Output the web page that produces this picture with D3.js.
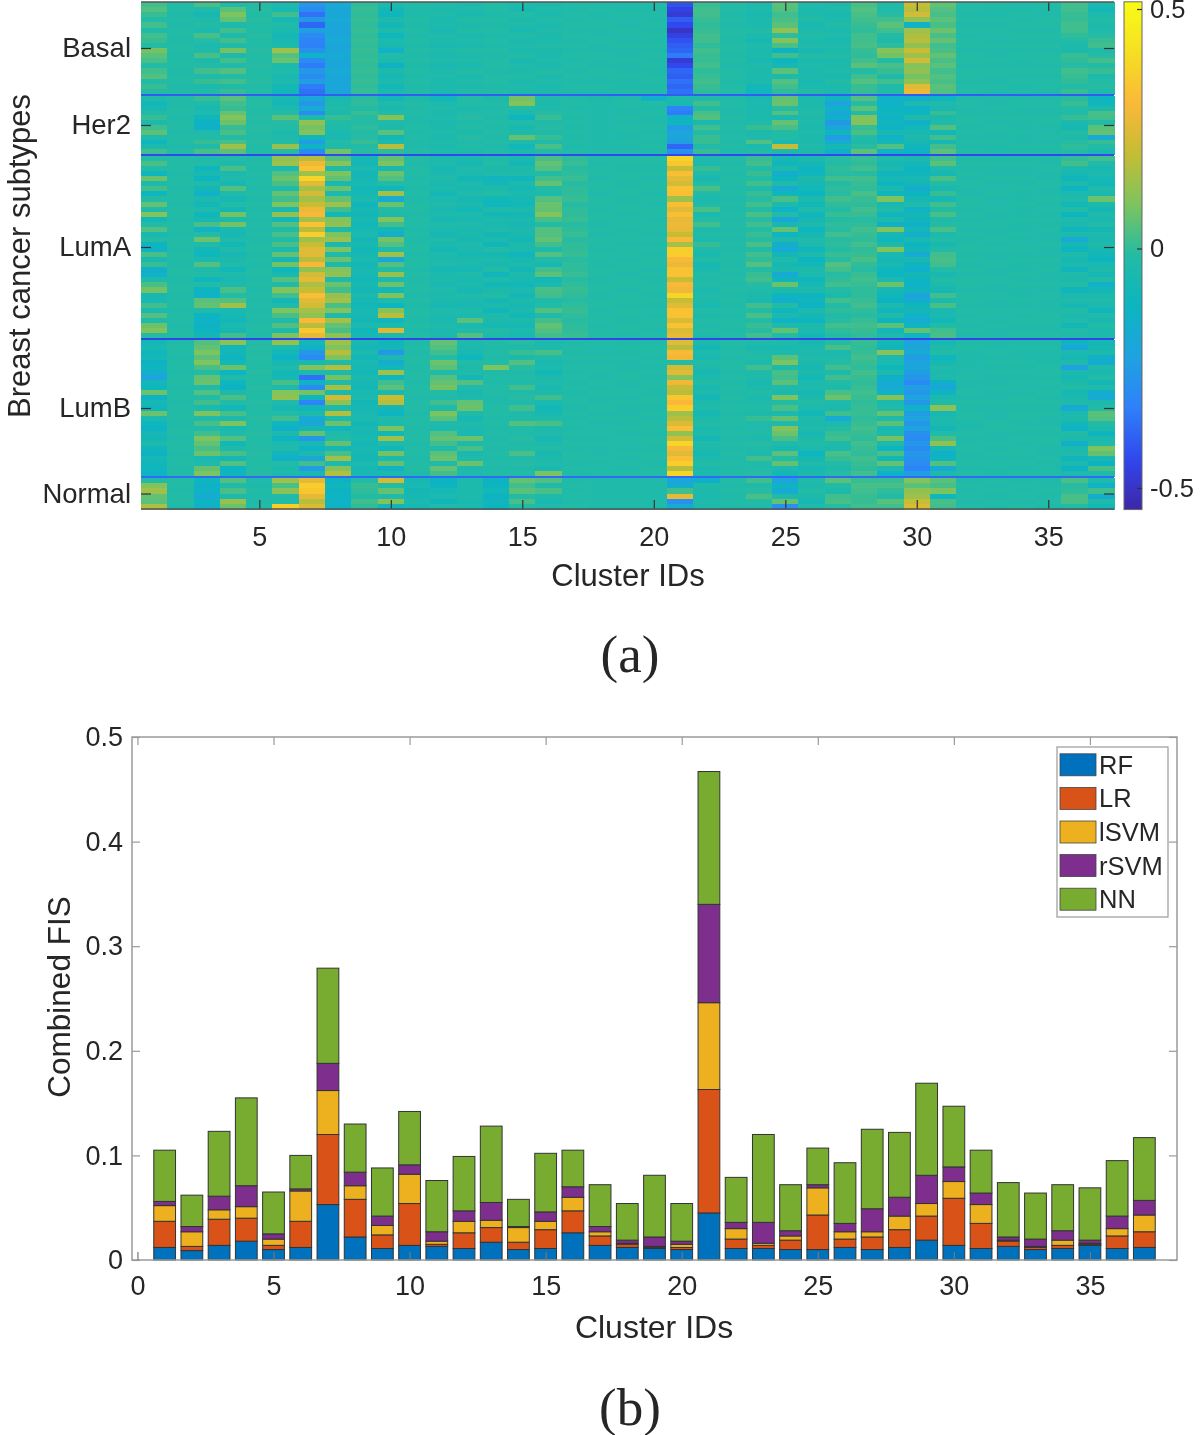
<!DOCTYPE html>
<html><head><meta charset="utf-8">
<script src="https://cdn.jsdelivr.net/npm/d3@7"></script>
<style>html,body{margin:0;background:#fff}svg{display:block;filter:blur(.5px)}text{font-family:"Liberation Sans",Arial,sans-serif;fill:#262626}</style>
</head><body><svg id="c" width="1200" height="1435"></svg>
<script>
// ---------- (a) heatmap values, hundredths, one array per row, 37 clusters ----------
const clusters = d3.range(1, 38);
const subtypes = ["Basal", "Her2", "LumA", "LumB", "Normal"];
const subtypeSamples = [184, 116, 364, 272, 62];
const separatorValues = [-40, -44, -45, -37];
const basalRows = [
[2,-2,3,-3,-2,-5,-26,-18,0,-5,-2,-3,-4,-2,-3,-4,-2,-3,-3,-2,-42,1,-2,-5,5,-3,-4,3,-2,20,6,-2,-2,-3,-2,2,-5],
[4,-2,-3,5,-1,-6,-30,-20,1,-8,-3,-4,-3,-2,-6,-3,-3,-2,-3,-3,-46,2,-2,-3,4,-5,-3,4,-3,18,4,-2,-3,-3,-3,2,-8],
[1,-3,-7,9,-2,2,-36,-20,0,-10,-3,-3,-6,-3,-2,-5,-2,-3,-2,-2,-48,2,-3,-6,2,-4,-6,3,-1,22,3,-3,-3,-2,-3,1,-5],
[-2,-2,-3,6,-1,-7,-26,-19,1,-4,-2,-5,-2,-2,-4,-2,-3,-3,-3,-3,-40,1,-2,-4,3,-2,-4,2,2,12,5,-2,-2,-3,-2,1,-2],
[2,-3,-2,-4,-2,-3,-38,-20,0,-8,-3,-4,-4,-3,-3,-5,-2,-2,-3,-2,-44,0,-3,-5,5,-6,-2,1,5,-14,3,-3,-3,-2,-2,2,-4],
[-3,-2,-5,2,-2,-5,-24,-21,1,-3,-2,-6,-2,-2,-6,-3,-3,-3,-2,-3,-50,1,-2,-2,12,-4,-5,0,2,14,7,-2,-2,-3,-3,2,-3],
[2,-2,3,-4,-1,-8,-30,-20,0,-11,-3,-3,-5,-3,-2,-4,-2,-3,-3,-2,-46,2,-2,-4,0,-2,-3,2,-2,16,3,-3,-3,-2,-2,0,-1],
[1,-3,-1,2,-2,-6,-32,-19,1,-5,-2,-4,-3,-2,-5,-5,-3,-2,-3,-3,-42,2,-3,-7,10,-5,-6,2,-3,18,6,-2,-3,-3,-3,-2,1],
[-2,-2,-5,-3,-2,-4,-33,-21,0,-6,-3,-6,-5,-3,-3,-2,-2,-3,-2,-2,-40,0,-2,-3,3,-3,-3,3,0,12,2,-2,-2,-2,-2,-4,2],
[8,-2,-3,8,-1,14,-28,-20,1,-14,-2,-3,-2,-2,-5,-4,-3,-3,-3,-3,-38,2,-2,-5,-13,-6,-4,1,10,20,3,-3,-3,-3,-3,-4,-3],
[5,-3,3,-4,-2,4,-14,-19,0,-2,-3,-5,-4,-3,-2,-5,-2,-2,-3,-2,-34,1,-3,-4,2,-2,-2,0,8,14,6,-2,-3,-2,-2,1,-1],
[3,-2,-4,2,-2,7,-30,-20,1,-5,-2,-3,-3,-2,-6,-3,-3,-3,-2,-3,-48,1,-2,-6,-12,-5,-5,2,-2,22,3,-2,-2,-3,-2,0,2],
[-2,-2,-2,-3,-1,-5,-34,-21,0,-13,-3,-6,-5,-2,-3,-5,-2,-3,-3,-2,-44,2,-3,-3,-7,-3,-4,5,3,10,5,-3,-3,-3,-3,-1,-2],
[2,-3,2,4,-2,-3,-26,-19,1,-4,-2,-4,-2,-3,-4,-2,-3,-2,-3,-3,-38,0,-2,-4,5,-5,-3,-2,1,12,2,-2,-2,-2,-2,2,1],
[4,-2,-3,-2,-2,-6,-30,-20,0,-7,-3,-3,-5,-2,-2,-4,-2,-3,-2,-2,-40,1,-2,-5,-4,-4,-6,2,-3,8,4,-2,-3,-3,-3,1,-4],
[-2,-2,1,2,-1,-4,-24,-20,1,-4,-2,-5,-3,-2,-5,-3,-3,-3,-3,-2,-36,2,-3,-4,4,-6,-2,4,2,12,3,-3,-3,-2,-2,0,-2],
[1,-3,-5,-3,-2,-8,-34,-21,0,-9,-3,-4,-4,-3,-3,-5,-2,-2,-3,-3,-38,1,-2,-8,2,-5,-4,1,-3,25,5,-2,-2,-3,-2,-2,-1],
[-2,-2,-2,1,-2,-9,-36,-20,1,-5,-2,-5,-2,-2,-4,-4,-3,-3,-2,-2,-36,0,-2,-11,0,-2,-5,1,-2,28,4,-2,-3,-3,-3,1,-3]];
const her2Rows = [
[-3,-2,1,5,-2,-6,-20,-6,-1,-8,-4,-9,-2,-4,8,-3,-3,-4,-3,-14,-5,-3,-3,-6,6,-5,-10,4,-14,-16,-11,-3,-3,-3,-3,-1,-12],
[-9,-3,-3,2,-1,-8,-26,-4,0,-3,-2,-5,-2,-2,10,-4,-2,-3,-2,-2,-6,2,-2,-5,7,-4,-22,-1,-14,-5,-3,-2,-3,-2,-2,1,-10],
[-6,-2,-6,1,-2,-5,-18,-3,-2,-6,-3,-3,-4,-3,-2,-3,-3,-3,-3,-3,-32,-2,-3,-5,-1,-3,-14,5,-12,-14,-6,-3,-2,-3,-3,-2,-4],
[-3,-2,-3,6,-2,-2,-30,-5,1,-2,-2,-5,-3,-2,-5,-1,-2,-3,-3,-2,-34,3,-3,-4,4,-2,-20,-2,-10,-12,1,-3,-3,-3,-3,-3,3],
[1,-3,-10,10,-1,5,-4,1,-1,10,-3,-3,-1,-3,-12,1,-3,-3,-2,-3,-14,4,-2,-5,-6,-4,-15,10,-14,-3,-4,-2,-2,-2,-2,1,2],
[-5,-2,-13,7,-2,-1,12,-2,-2,-3,-3,-5,-3,-2,-2,-3,-2,-3,-3,-3,-10,-6,-3,-3,6,-3,-26,10,-10,-15,-3,-2,-3,-3,-2,-5,-2],
[2,-2,-15,1,-1,-2,8,-3,0,-4,-2,-4,-2,-3,-6,-1,-3,-3,-2,-2,-24,2,-2,1,3,-5,-20,1,-14,-9,4,-3,-2,-3,-3,-7,5],
[5,-3,-3,3,-2,-5,10,-5,-2,5,-3,-3,-4,-2,-4,-3,-2,-3,-3,-3,-22,-2,-3,-4,-2,-3,-11,3,-6,-6,-9,-2,-3,-2,-3,-2,6],
[-3,-2,-2,-2,-2,-3,-10,-6,-1,-8,-2,-5,-1,-3,6,1,-3,-3,-3,-2,-20,1,-2,-3,-2,-5,-24,-2,-14,-4,2,-3,-3,-3,-2,-4,-18],
[-11,-2,1,3,-1,-2,-24,-2,1,-5,-3,-3,-3,-2,-3,-3,-2,-3,-2,-3,-24,1,-3,4,-6,-4,-17,-4,-8,-7,-7,-2,-2,-3,-3,-1,1],
[-5,-3,-3,14,-2,13,-12,-3,-2,18,-3,-5,-2,-3,-9,3,-3,-3,-3,-2,-38,-3,-2,-5,20,-3,-7,-1,4,-10,2,-3,-3,-2,-2,0,-2],
[2,-2,3,5,-2,-1,-30,8,-1,0,-2,-3,-4,-2,-5,-2,-2,-3,-3,-3,-28,1,-3,-2,-5,-4,-15,5,-14,-13,5,-2,-3,-3,-3,-2,-6]];
const lumARows = [
[-2,-2,-3,-2,-3,12,18,4,-7,6,-2,-5,-5,-3,-5,3,0,-2,-2,-2,38,-3,-2,1,-7,-5,-1,1,-3,-5,2,-3,-3,-3,-3,0,2],
[3,-2,-2,-4,-2,14,28,11,-8,9,-3,-4,-7,-2,-8,6,1,-3,-2,-2,34,-5,-3,2,-10,-7,-2,0,-7,-8,5,-2,-2,-2,-3,2,-3],
[-2,-2,-11,3,-3,-5,33,-3,-5,-6,-2,-7,-3,-4,-4,4,-1,-2,-3,-3,20,1,-2,-2,-4,-12,0,2,-5,-12,-3,-3,-3,-3,-2,-4,-6],
[-11,-3,-6,-5,-2,4,14,9,-8,7,-2,-5,-5,-3,-3,-2,0,-2,-2,-2,32,-3,-3,1,-16,-10,-1,-1,-10,-10,-7,-2,-3,-3,-3,-7,-5],
[7,-2,-12,-3,-3,7,38,6,-7,4,-3,-3,-8,-10,-10,2,1,-3,-2,-3,26,-6,-2,-2,-12,-4,2,2,-7,-7,3,-3,-2,-2,-3,-10,-7],
[-4,-2,-3,-7,-2,3,25,-6,-6,-2,-2,-6,-4,-8,-5,6,-1,-2,-3,-2,22,-2,-2,2,-3,-7,-2,1,-12,-8,-2,-2,-3,-3,-2,-4,-9],
[2,-3,-8,4,-3,-3,15,7,-9,-11,-3,-4,-6,-4,-7,-2,0,-2,-2,-2,33,3,-3,-3,-17,-9,0,0,-5,-16,-6,-3,-3,-2,-3,-12,-3],
[-11,-2,-14,-3,-2,6,22,-5,-7,15,-2,-8,-3,-2,-5,-4,0,-3,-2,-3,32,-2,-2,1,-10,-12,-1,3,-10,-12,1,-3,-2,-3,-3,-5,-6],
[-2,-2,-5,-7,-3,2,15,6,-5,-18,-3,-5,-7,-9,-7,4,1,-2,-3,-2,14,-5,-3,-1,3,-5,2,1,9,-7,-7,-2,-3,-3,-2,-3,7],
[6,-3,-9,-2,-2,9,20,14,-10,7,-2,-3,-4,-11,-9,7,-1,-2,-2,-3,32,-3,-2,2,-5,-9,0,0,-6,-3,2,-2,-3,-2,-3,-9,-4],
[-3,-2,-3,-8,-3,-6,28,2,-7,-2,-2,-6,-9,-3,-4,6,0,-3,-2,-2,25,3,-3,-2,-14,-3,-2,2,-3,-14,-2,-3,-2,-3,-2,-2,-8],
[10,-2,-11,8,-2,12,30,-9,-8,-4,-3,-4,-4,-8,-8,10,0,-2,-3,-2,32,-5,-2,3,-2,-10,1,1,-10,-8,3,-2,-3,-3,-3,-12,-3],
[-9,-3,-6,-4,-3,-8,15,10,-6,10,-2,-7,-6,-4,-5,3,1,-2,-2,-3,26,-2,-3,-1,-20,-7,-2,-1,-4,-10,-3,-3,-3,-2,-2,-3,-6],
[-2,-2,3,8,-2,4,33,12,-9,2,-2,-3,-3,-6,-7,-2,-1,-3,-2,-2,28,2,-2,2,-7,-4,0,0,-15,-15,-2,-2,-2,-3,-3,-5,-2],
[4,-2,-14,-6,-3,-3,18,-4,-7,-8,-3,-5,-6,-3,-4,4,0,-2,-3,-2,26,-4,-3,-2,6,-12,-1,2,10,-8,3,-3,-3,-3,-2,-10,-8],
[-6,-3,-2,-7,-2,3,36,9,-5,-16,-2,-7,-4,-8,-6,4,1,-3,-2,-3,20,-2,-2,1,-12,-7,2,1,-7,-16,-5,-2,-3,-2,-3,-4,-4],
[-2,-2,7,-3,-3,-2,14,14,-8,8,-3,-3,-7,-4,-8,6,-1,-2,-2,-2,30,-5,-3,-1,-4,-3,-1,0,-10,-6,-2,-3,-2,-3,-3,-18,-6],
[-12,-2,-3,-9,-2,3,20,-6,-6,4,-2,-5,-3,-10,-4,2,0,-2,-3,-3,15,1,-2,3,-16,-5,0,2,-4,-12,-6,-2,-3,-3,-2,-7,-3],
[-14,-3,-8,-3,-2,-5,25,9,-9,-3,-2,-8,-5,-2,-5,-4,0,-3,-2,-2,36,-3,-3,-2,-18,-10,-2,0,10,-8,-2,-2,-2,-2,-3,-12,-7],
[3,-2,-11,-7,-3,6,25,-3,-7,14,-3,-4,-7,-7,-10,4,1,-2,-2,-3,36,-6,-2,2,-8,-4,1,1,-6,-18,2,-3,-3,-3,-3,-3,-8],
[-6,-2,-5,-4,-2,-8,18,7,-5,-20,-2,-5,-4,-4,-6,-3,-1,-2,-3,-2,30,-2,-2,0,-3,-12,-1,3,-8,-6,3,-2,-3,-2,-2,-7,-12],
[1,-3,4,-3,-3,8,30,-5,-8,4,-2,-3,-5,-6,-4,-7,0,-3,-2,-2,27,-7,-3,4,-7,-9,4,0,-6,-12,2,-3,-2,-3,-3,-5,-6],
[-15,-2,-4,-9,-2,-11,12,10,-6,-2,-3,-7,-7,-2,-8,2,0,-2,-2,-3,33,-5,-2,-2,-5,-4,2,-1,-11,-15,-2,-2,-3,-3,-2,-10,-4],
[-14,-2,-2,-3,-2,-6,22,12,-7,13,-2,-5,-3,-10,-4,5,1,-2,-3,-2,33,-2,-3,1,-18,-5,-1,1,-12,-8,-6,-3,-3,-2,-3,-3,-7],
[-3,-3,-11,-6,-3,4,26,-3,-9,-5,-3,-4,-6,-3,-6,-9,-1,-3,-2,-3,20,-3,-2,2,-10,-10,0,2,-5,-12,-2,-2,-2,-3,-3,-4,-2],
[3,-2,-2,-4,-2,-3,16,7,-6,7,-2,-6,-4,-9,-9,-5,0,-2,-2,-2,30,-2,-3,-1,7,-7,2,1,7,-14,-4,-2,-3,-2,-2,-2,-14],
[8,-2,-12,3,-3,10,20,2,-8,-9,-2,-3,-7,-4,-5,3,1,-2,-3,-2,28,-5,-2,-3,-4,-4,-2,0,-7,-10,-7,-3,-3,-3,-3,-10,-8],
[-7,-3,-14,-2,-2,2,32,13,-5,9,-3,-5,-3,-2,-8,2,0,-3,-2,-3,38,-3,-3,-4,-12,-12,-4,0,-10,-22,2,-2,-2,-3,-2,-5,-5],
[-6,-2,5,4,-3,-8,25,15,-7,-3,-2,-4,-5,-7,-4,-3,-1,-2,-2,-2,20,-3,-2,-6,-16,-10,2,1,-13,-16,-5,-2,-3,-2,-3,-3,-3],
[2,-2,6,14,-2,-3,22,3,-9,-12,-3,-7,-6,-4,-7,-2,0,-2,-3,-3,25,-6,-3,2,-2,-13,-2,2,-5,-10,3,-3,-3,-3,-3,-7,-5],
[-5,-3,-3,-6,-3,9,15,10,-6,10,-2,-3,-3,-10,-5,4,1,-3,-2,-2,33,-2,-2,-2,-10,-5,0,0,-10,-8,-6,-2,-2,-2,-3,-2,-10],
[4,-2,-12,-7,-2,3,12,-5,-7,18,-2,-5,-5,-3,-9,-3,0,-2,-2,-3,33,-4,-3,3,-5,-7,-3,-1,-3,-14,-5,-3,-3,-3,-2,-5,-3],
[-3,-2,-14,-9,-3,-3,30,15,-8,-10,-3,-6,5,-4,-4,2,-1,-2,-3,-2,24,-2,-2,-2,-14,-12,-1,1,-12,-18,-9,-2,-3,-2,-2,-3,-6],
[7,-3,-13,-5,-2,4,18,6,-5,-3,-2,-3,-6,-7,-7,6,0,-3,-2,-2,33,-3,-2,1,-3,-4,2,2,5,-10,-2,-3,-2,-3,-3,-8,-2],
[10,-2,-12,-7,-2,-5,35,3,-9,24,-3,-5,-3,-2,-5,4,0,-2,-2,-3,24,-2,-3,-1,6,-5,0,1,-8,6,2,-2,-3,-3,-3,-2,-5],
[-2,-2,-8,2,-3,9,26,12,-7,-5,-2,-4,4,-4,-6,2,1,-2,-3,-2,26,-4,-2,2,-2,-8,-2,0,-4,-12,3,-3,-3,-2,-2,-3,-4]];
const lumBRows = [
[-9,-3,4,11,-2,12,-8,14,-6,-10,-3,6,-3,-2,-1,-5,-3,-2,-3,-3,25,-4,-2,-3,-3,-7,-2,1,-7,-22,-7,-3,-3,-3,-3,-12,-8],
[-6,-2,6,-10,-1,-5,-14,9,-8,-8,-2,4,-5,-3,-3,-4,-2,-3,-2,-2,18,-8,-3,-6,-6,-4,3,0,-10,-20,-3,-2,-3,-2,-2,-20,-7],
[-11,-2,9,-8,-2,-9,-26,18,-5,-26,-3,2,-6,-2,1,3,-3,-3,-3,-2,30,-4,-2,-3,-5,-5,-5,1,11,-18,-2,-3,-2,-3,-3,-5,-4],
[-7,-3,5,-12,-1,-13,-30,9,-8,-5,-2,-2,-11,-3,-4,-3,-2,-2,-2,-3,28,-6,-3,-2,5,-3,-3,2,-6,-24,-11,-3,-3,-3,-3,-7,-15],
[-13,-2,10,-9,-2,-7,-6,-3,-6,-17,-2,7,-2,-2,4,-6,-3,-3,-3,-2,-2,-2,-2,-5,9,-4,-2,1,-5,-22,-7,-3,-2,-2,-3,-3,-17],
[-11,-2,3,7,-2,-3,10,17,-7,-9,-3,5,-4,9,-1,-5,-2,-2,-3,-3,22,-4,-2,2,-4,-7,2,0,-11,-20,-3,-3,-3,-3,-2,-22,-3],
[-16,-3,-2,-12,-1,-9,-4,-5,-8,14,-2,-3,-3,-3,-3,-9,-3,-3,-2,-2,25,-7,-3,-3,3,-4,-4,2,-4,-24,-5,-3,-2,-2,-2,-5,-6],
[-22,-2,6,-3,-2,-7,-36,8,-5,-11,-2,4,-8,-2,-2,-4,-2,-3,-2,-3,10,-4,-2,-3,2,-9,2,1,-15,-26,-3,-2,-3,-3,-3,-7,-2],
[-9,-2,7,-11,-2,3,-14,-3,-7,2,-3,6,4,-3,-3,-3,-3,-2,-3,-2,28,-2,-3,-6,5,-5,-2,0,-17,-30,-15,-3,-3,-2,-2,-4,-8],
[-11,-3,-3,-13,-1,-5,-30,15,-8,5,-2,8,-3,-2,2,-6,-2,-3,-3,-2,20,-6,-2,-4,-3,-3,-4,1,-18,-24,-20,-3,-2,-3,-3,-2,-3],
[7,-2,4,-4,-2,10,8,-5,-6,-6,-2,-2,-6,-2,-3,-4,-3,-2,-2,-3,18,-4,-3,-2,-6,-7,3,2,-14,-26,-12,-2,-3,-3,-2,-7,-16],
[-13,-2,-2,3,-2,12,-10,22,-5,20,-3,-3,-4,-3,-1,2,-2,-3,-3,-2,34,-8,-2,-5,9,-4,7,1,10,-22,-5,-3,-3,-2,-3,-5,-18],
[-7,-3,2,-2,-1,-3,-32,12,-8,18,-2,2,6,-3,-3,-5,-2,-3,-2,-2,30,-4,-3,-3,-2,-2,-3,0,-4,-26,-3,-2,-2,-2,-2,-3,-4],
[-10,-2,-5,-9,-2,-7,-10,-4,-7,-8,-2,-3,7,-2,2,-9,-3,-2,-3,-3,36,-3,-2,-2,3,-5,-5,1,-3,-14,11,-3,-3,-3,-3,-18,-2],
[7,-2,9,3,-2,-2,-4,17,-6,-12,-3,9,-3,-2,-3,-6,-2,-3,-3,-2,14,-7,-3,-4,-5,-9,2,1,6,-24,-7,-2,-3,-2,-2,-5,5],
[-5,-2,-3,-5,-1,2,-18,-3,-5,-3,-2,5,-7,-3,-3,-3,-3,-2,-2,-3,18,-4,-2,1,6,-3,-18,0,-3,-22,-4,-2,-3,-2,-3,-4,4],
[-11,-3,3,9,-2,-11,-20,7,-8,-5,-2,-3,-3,-2,4,3,-2,-3,-3,-2,24,-2,-2,-3,-3,-5,-5,1,5,-26,-5,-4,-2,-3,-3,-9,-2],
[-13,-2,-3,-6,-2,-15,-8,-10,-6,9,-3,-5,-5,-3,-2,-4,-3,-3,-2,-2,32,-5,-3,-3,10,-3,-2,2,-7,-22,-8,-3,-2,-2,-2,-14,-4],
[-7,-2,2,-3,-1,-5,6,-3,-7,-9,-2,4,-6,-2,-3,-3,-2,-2,-3,-3,12,-4,-2,-2,7,-7,1,1,-4,-28,-2,-2,-3,-3,-3,-2,-12],
[-8,-3,9,4,-2,-13,-26,-2,-5,14,-2,6,7,-3,-1,-7,-3,-3,-2,-2,22,-8,-3,-5,3,-4,2,0,8,-30,3,-3,-3,-2,-2,-4,-5],
[-4,-2,6,-9,-2,-5,-6,6,-8,-3,-3,2,-4,-2,-3,-4,-2,-2,-3,-2,38,-3,-2,-1,-3,-2,-3,2,-5,-26,12,-3,-2,-3,-2,-15,-3],
[-10,-2,3,-4,-2,-3,-14,-8,-6,-11,-2,-3,3,-3,-2,-2,-3,-3,-3,-3,30,-4,-3,-3,-7,-5,-5,1,-12,-30,-7,-2,-3,-2,-3,-5,9],
[-13,-3,7,3,-1,-10,-4,3,-7,8,-2,5,-6,-2,3,-6,-2,-3,-2,-2,25,-7,-2,-4,5,-12,3,0,3,-26,-15,-3,-2,-2,-3,-3,6],
[-7,-2,-6,-8,-2,-15,-20,14,-8,-5,-3,7,-3,-3,-3,-4,-2,-2,-3,-2,32,-4,-3,2,-2,-7,1,2,-9,-28,-12,-3,-3,-3,-2,-10,-7],
[-10,-2,-3,4,-2,-2,2,-5,-5,6,-2,-3,7,-2,-1,-3,-3,-3,-2,-3,36,-2,-2,-3,6,-3,-2,1,6,-30,4,-2,-2,-2,-3,-5,-13],
[-11,-3,6,-12,-2,-5,-24,10,-7,-14,-2,6,-5,-3,-3,-6,-2,-3,-3,-2,18,-5,-3,-3,-5,-7,-4,0,-5,-32,-18,-3,-3,-3,-3,-13,3],
[-14,-2,9,-11,-1,-4,-6,17,-6,-4,-3,2,-3,-2,-2,9,-3,-2,-2,-2,38,-5,-2,-1,-8,-4,-1,2,-15,-24,-4,-2,-3,-2,-2,-4,-3]];
const normalRows = [
[-2,-2,-11,4,-3,14,26,-13,-2,22,-7,-13,-5,-13,6,4,-3,-3,-3,-3,-22,-15,-2,2,-22,-3,5,1,1,10,5,-3,-2,-3,-3,3,-3],
[10,-2,-15,-3,-4,3,36,-10,1,-2,-6,-12,-4,-12,2,-3,-2,-3,-3,-3,-16,-3,-3,-3,-12,-4,-2,3,3,5,3,-2,-3,-2,-3,-1,-14],
[14,-3,-14,3,-2,11,34,-13,0,6,-8,-7,-5,-9,5,3,-3,-3,-3,-3,2,-4,-2,-1,-18,-2,-4,2,0,12,9,-3,-2,-3,-2,0,2],
[6,-2,-18,-4,-3,-3,26,-12,-2,-3,-7,-5,-4,-13,-2,-3,-2,-3,-3,-3,26,-5,-3,3,-3,-4,2,1,-2,14,-11,-2,-3,-2,-3,3,-16],
[5,-2,-12,13,-3,-2,18,-14,2,10,-5,-10,-6,-10,3,-6,-3,-3,-3,-3,-28,-3,-2,-2,6,-7,3,1,5,20,3,-3,-2,-3,-2,3,-3],
[16,-3,-15,7,-2,36,24,-13,0,-10,-7,-3,-5,-12,-2,-3,-2,-3,-3,-3,-18,-4,-3,-3,-28,-3,-1,2,2,24,2,-2,-3,-2,-3,-2,-9]];
const subtypeMatrix = [basalRows, her2Rows, lumARows, lumBRows, normalRows];
const colorbarTicks = [-0.5, 0, 0.5];
const clusterTicks = [5, 10, 15, 20, 25, 30, 35];

// ---------- (b) stacked bars: each classifier's own share ----------
const classifiers = ["RF", "LR", "lSVM", "rSVM", "NN"];
const rfShare   = [.012,.009,.014,.018,.010,.012,.053,.022,.011,.014,.013,.011,.017,.010,.011,.026,.014,.012,.011,.010,.045,.011,.011,.010,.010,.012,.010,.012,.019,.014,.011,.013,.010,.011,.014,.011,.012];
const lrShare   = [.025,.004,.025,.022,.004,.025,.067,.036,.013,.040,.002,.015,.014,.007,.018,.021,.009,.003,.001,.002,.118,.009,.003,.009,.033,.008,.012,.017,.023,.045,.024,.005,.002,.003,.001,.012,.015];
const lsvmShare = [.015,.014,.009,.011,.006,.029,.042,.013,.009,.028,.003,.011,.007,.014,.008,.013,.004,.001,.001,.003,.083,.010,.002,.004,.026,.007,.005,.013,.012,.016,.018,.001,.001,.005,.001,.007,.016];
const rsvmShare = [.004,.005,.013,.020,.005,.002,.026,.013,.009,.009,.009,.010,.017,.001,.009,.010,.005,.003,.009,.003,.094,.006,.020,.005,.003,.008,.022,.018,.027,.014,.011,.003,.007,.009,.003,.012,.014];
const nnShare   = [.049,.030,.062,.084,.040,.032,.091,.046,.046,.051,.049,.052,.073,.026,.056,.035,.040,.035,.059,.036,.127,.043,.084,.044,.035,.058,.076,.062,.088,.058,.041,.052,.044,.044,.050,.053,.060];
const shareSeries = [rfShare, lrShare, lsvmShare, rsvmShare, nnShare];
const classifierColors = ["#0072bd", "#d95319", "#edb120", "#7e2f8e", "#77ac30"];
const fisTicks = [0, 0.1, 0.2, 0.3, 0.4, 0.5];
const barIdTicks = [0, 5, 10, 15, 20, 25, 30, 35];

const svg = d3.select("#c");
const color = d3.scaleLinear()
  .domain(d3.range(11).map(i => -0.545 + i * 0.106))
  .range(["#3e26a8","#3048ee","#2f80fa","#1fa2e0","#0cb5c0","#22bba5","#7cc45e","#c4bd35","#fbb838","#f5df22","#f9fb15"]);

// ---- panel a ----
const ax = d3.scaleBand().domain(clusters).range([141, 1114]);
const axLin = d3.scaleLinear().domain([0.5, 37.5]).range([141, 1114]);
const sep = 4;
const total = d3.sum(subtypeSamples) + sep * separatorValues.length;
const ay = d3.scaleLinear().domain([0, total]).range([2, 509]);
const heat = svg.append("g").attr("shape-rendering", "crispEdges");
let cursor = 0; const labelPos = [];
subtypeMatrix.forEach((rows, gi) => {
  const start = cursor, end = cursor + subtypeSamples[gi];
  labelPos.push((start + end) / 2);
  const band = d3.scaleBand().domain(d3.range(rows.length)).range([ay(start), ay(end)]);
  rows.forEach((row, ri) => {
    heat.append("g").selectAll("rect").data(row).join("rect")
      .attr("x", (d, i) => ax(clusters[i])).attr("width", ax.bandwidth() + .5)
      .attr("y", band(ri)).attr("height", band.bandwidth() + .5)
      .attr("fill", d => color(d / 100));
  });
  cursor = end;
  if (gi < separatorValues.length) {
    heat.append("rect").attr("x", 141).attr("width", 973).attr("y", ay(cursor)).attr("height", ay(cursor + sep) - ay(cursor) + .6)
      .attr("fill", color(separatorValues[gi] / 100));
    cursor += sep;
  }
});
function styleAxis(g, size, stroke) {
  g.select(".domain").remove();
  g.selectAll("line").attr("stroke", stroke).attr("stroke-width", 1.2);
  g.selectAll("text").attr("font-size", size).attr("fill", "#262626");
}
svg.append("g").attr("transform", "translate(0,509)")
  .call(d3.axisBottom(axLin).tickValues(clusterTicks).tickSize(-9).tickPadding(18)).call(styleAxis, 27, "#333");
svg.append("g").attr("transform", "translate(0,2)")
  .call(d3.axisTop(axLin).tickValues(clusterTicks).tickSize(-9).tickFormat("")).call(styleAxis, 27, "#333");
const ayBand = d3.scaleOrdinal().domain(subtypes).range(labelPos.map(ay));
svg.append("g").attr("transform", "translate(141,0)")
  .call(d3.axisLeft(ayBand).tickSize(-10).tickPadding(10)).call(styleAxis, 27.5, "#333");
svg.append("g").attr("transform", "translate(1114,0)")
  .call(d3.axisRight(ayBand).tickSize(-10).tickFormat("")).call(styleAxis, 27, "#333");
svg.append("path").attr("d", d3.line()([[141,2],[1114,2]])).attr("stroke", "#555").attr("stroke-width", 1.5);
svg.append("path").attr("d", d3.line()([[141,509],[1114,509]])).attr("stroke", "#555").attr("stroke-width", 1.5);
svg.append("text").attr("x", 628).attr("y", 586).attr("text-anchor", "middle").attr("font-size", 31).text("Cluster IDs");
svg.append("text").attr("transform", "translate(30,256) rotate(-90)").attr("text-anchor", "middle").attr("font-size", 31).text("Breast cancer subtypes");

// colour bar
const defs = svg.append("defs");
const cbY = d3.scaleLinear().domain([-0.5, 0.5]).range([488, 9]);
const grad = defs.append("linearGradient").attr("id", "parula").attr("x1", 0).attr("x2", 0).attr("y1", 1).attr("y2", 0);
grad.selectAll("stop").data(color.domain()).join("stop")
  .attr("offset", (d, i) => i / 10).attr("stop-color", d => color(d));
svg.append("rect").attr("x", 1124).attr("y", cbY(0.515)).attr("width", 18).attr("height", cbY(-0.545) - cbY(0.515))
  .attr("fill", "url(#parula)").attr("stroke", "#666").attr("stroke-width", 1);
svg.append("g").attr("transform", "translate(1142,0)")
  .call(d3.axisRight(cbY).tickValues(colorbarTicks).tickSize(-5).tickPadding(8).tickFormat(d => String(d)))
  .call(styleAxis, 25.5, "#333");

svg.append("text").attr("x", 630).attr("y", 672).attr("text-anchor", "middle").attr("font-size", 53)
  .style("font-family", "'Liberation Serif',serif").text("(a)");

// ---- panel b ----
const bx = d3.scaleLinear().domain([-0.2, 38.2]).range([132, 1177]);
const by = d3.scaleLinear().domain([0, 0.5]).range([1260, 737]);
const rowsB = clusters.map((c, i) => {
  const o = { cluster: c };
  classifiers.forEach((k, j) => o[k] = shareSeries[j][i]);
  return o;
});
const stack = d3.stack().keys(classifiers)(rowsB);
const barW = bx(0.8) - bx(0);
svg.append("g").selectAll("g").data(stack).join("g")
  .attr("fill", (d, i) => classifierColors[i])
  .selectAll("rect").data(d => d).join("rect")
  .attr("x", d => bx(d.data.cluster) - barW / 2).attr("width", barW)
  .attr("y", d => by(d[1])).attr("height", d => by(d[0]) - by(d[1]))
  .attr("stroke", "#333").attr("stroke-width", 1);
const gray = "#9a9a9a";
svg.append("rect").attr("x", 132).attr("y", 737).attr("width", 1045).attr("height", 523)
  .attr("fill", "none").attr("stroke", gray).attr("stroke-width", 1.5);
svg.append("g").attr("transform", "translate(0,1260)")
  .call(d3.axisBottom(bx).tickValues(barIdTicks).tickSize(-8).tickPadding(16)).call(styleAxis, 27, "#777");
svg.append("g").attr("transform", "translate(0,737)")
  .call(d3.axisTop(bx).tickValues(barIdTicks).tickSize(-8).tickFormat("")).call(styleAxis, 27, gray);
svg.append("g").attr("transform", "translate(132,0)")
  .call(d3.axisLeft(by).tickValues(fisTicks).tickSize(-8).tickPadding(9).tickFormat(d3.format("~g"))).call(styleAxis, 27, gray);
svg.append("g").attr("transform", "translate(1177,0)")
  .call(d3.axisRight(by).tickValues(fisTicks).tickSize(-8).tickFormat("")).call(styleAxis, 27, gray);
svg.append("text").attr("x", 654).attr("y", 1338).attr("text-anchor", "middle").attr("font-size", 32).text("Cluster IDs");
svg.append("text").attr("transform", "translate(70,997) rotate(-90)").attr("text-anchor", "middle").attr("font-size", 31.5).text("Combined FIS");
svg.append("text").attr("x", 630).attr("y", 1425).attr("text-anchor", "middle").attr("font-size", 53)
  .style("font-family", "'Liberation Serif',serif").text("(b)");

// legend
svg.append("rect").attr("x", 1057).attr("y", 747).attr("width", 111).attr("height", 170)
  .attr("fill", "#fff").attr("stroke", gray).attr("stroke-width", 1.2);
const legY = d3.scaleBand().domain(classifiers).range([748, 916]);
const leg = svg.append("g").selectAll("g").data(classifiers).join("g")
  .attr("transform", d => `translate(0,${legY(d) + legY.bandwidth() / 2})`);
leg.append("rect").attr("x", 1060).attr("y", -11).attr("width", 36).attr("height", 22)
  .attr("fill", (d, i) => classifierColors[i]).attr("stroke", "#444").attr("stroke-width", .8);
leg.append("text").attr("x", 1099).attr("y", 9).attr("font-size", 25.5).text(d => d);
</script></body></html>
